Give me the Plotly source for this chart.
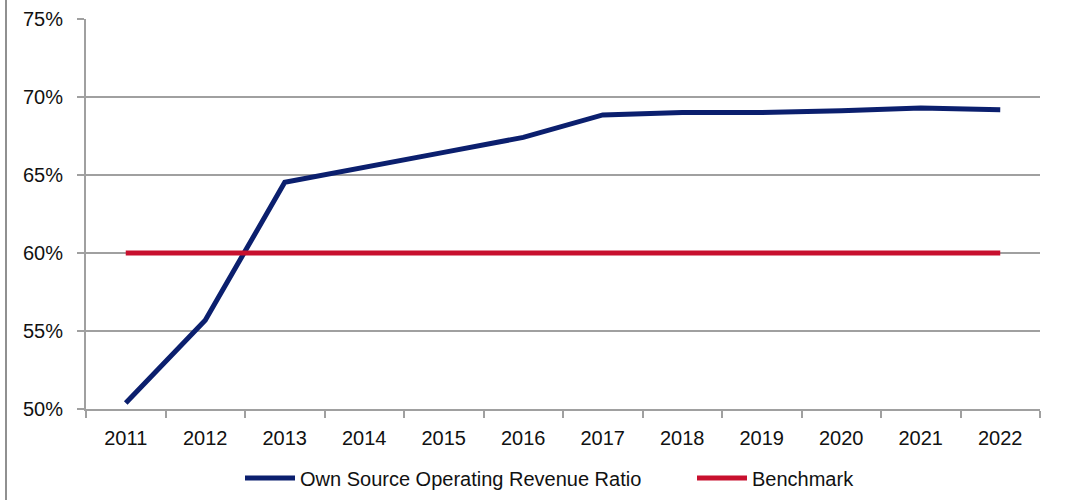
import plotly.graph_objects as go

years = ["2011", "2012", "2013", "2014", "2015", "2016", "2017", "2018", "2019", "2020", "2021", "2022"]
own_source = [50.38, 55.69, 64.53, 65.45, 66.45, 67.41, 68.85, 69.0, 69.0, 69.12, 69.3, 69.19]
benchmark = [60, 60, 60, 60, 60, 60, 60, 60, 60, 60, 60, 60]
y_ticks = [50, 55, 60, 65, 70, 75]
y_tick_text = ["50%", "55%", "60%", "65%", "70%", "75%"]

FONT = "Liberation Sans, Arial, sans-serif"
GRID = "#a0a0a0"

fig = go.Figure()
fig.add_trace(go.Scatter(x=years, y=own_source, mode="lines", name="Own Source Operating Revenue Ratio",
                         line=dict(color="#0b1f6e", width=5), legend="legend"))
fig.add_trace(go.Scatter(x=years, y=benchmark, mode="lines", name="Benchmark",
                         line=dict(color="#c8102e", width=5), legend="legend2"))

L, R, T, B = 86, 26, 19, 91
W, H = 1066, 500
pw, ph = W - L - R, H - T - B

leg_common = dict(orientation="h", xref="container", yref="container",
                  xanchor="left", y=(H - 478) / H, yanchor="middle",
                  font=dict(family=FONT, size=20, color="#111111"),
                  itemwidth=50, bgcolor="rgba(0,0,0,0)")

fig.update_layout(
    width=W, height=H,
    margin=dict(l=L, r=R, t=T, b=B),
    paper_bgcolor="white", plot_bgcolor="white",
    font=dict(family=FONT, size=20, color="#111111"),
    showlegend=True,
    legend=dict(x=240 / W, **leg_common),
    legend2=dict(x=692 / W, **leg_common),
    xaxis=dict(type="category", range=[-0.5, 11.5], showgrid=False, showline=True,
               linecolor=GRID, linewidth=2, ticks="outside", ticklen=7, tickwidth=2,
               tickcolor=GRID, tickson="boundaries", ticklabelstandoff=10, automargin=False),
    yaxis=dict(range=[50, 75], tickvals=y_ticks, ticktext=y_tick_text, showgrid=True,
               gridcolor=GRID, gridwidth=2, showline=True, linecolor=GRID, linewidth=2,
               ticks="outside", ticklen=7, tickwidth=2, tickcolor=GRID,
               ticklabelstandoff=10, zeroline=False, automargin=False),
    shapes=[dict(type="line", xref="paper", yref="paper",
                 x0=(6 - L) / pw, x1=(6 - L) / pw, y0=-B / ph, y1=1 + T / ph,
                 line=dict(color="#909090", width=2))],
)

fig.write_html("out.html", config={"displayModeBar": False},
               post_script="document.body.style.margin='0px';")
